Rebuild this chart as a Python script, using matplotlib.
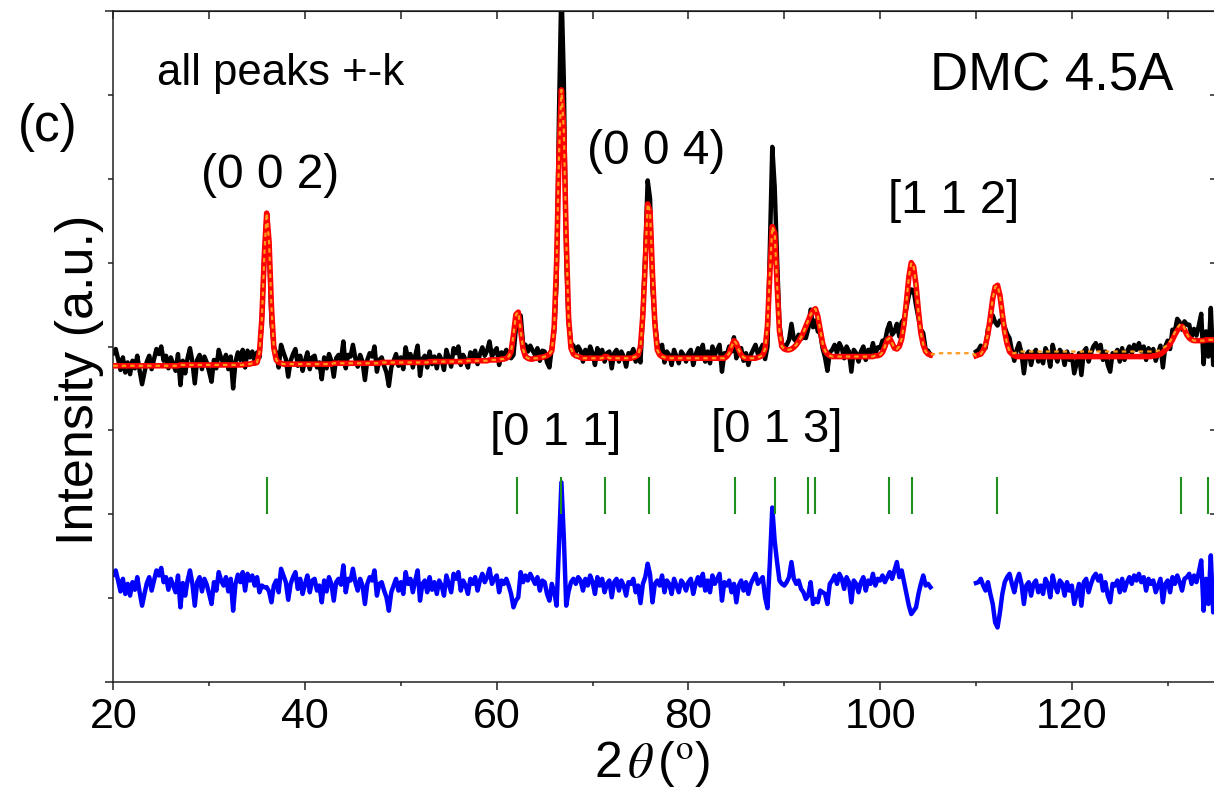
import numpy as np
import matplotlib
matplotlib.use("Agg")
import matplotlib.pyplot as plt
from matplotlib.ticker import FixedLocator, MultipleLocator, NullFormatter

plt.rcParams["font.family"] = ["Liberation Sans", "DejaVu Sans"]
plt.rcParams["mathtext.fontset"] = "stix"

NA = float("nan")

# ---------------------------------------------------------------- data
# 2theta grid of the measurement (degrees)
TT_START = 20.0
TT_STEP = 0.25

# calculated profile (red), 0.01 a.u., one row = one degree (x.00, x.25, x.50, x.75)
fit_rows = [
    [377, 377, 377, 377],  # 20
    [377, 377, 377, 377],  # 21
    [377, 377, 377, 377],  # 22
    [377, 377, 377, 377],  # 23
    [377, 377, 377, 377],  # 24
    [377, 377, 377, 377],  # 25
    [377, 377, 377, 377],  # 26
    [378, 378, 378, 378],  # 27
    [378, 378, 378, 378],  # 28
    [378, 378, 378, 378],  # 29
    [378, 378, 378, 378],  # 30
    [378, 378, 378, 378],  # 31
    [378, 378, 378, 378],  # 32
    [378, 378, 378, 379],  # 33
    [379, 379, 380, 380],  # 34
    [381, 393, 433, 507],  # 35
    [559, 525, 447, 398],  # 36
    [384, 381, 380, 379],  # 37
    [379, 379, 379, 379],  # 38
    [379, 379, 379, 379],  # 39
    [379, 379, 379, 379],  # 40
    [379, 379, 379, 379],  # 41
    [379, 379, 379, 379],  # 42
    [380, 380, 380, 380],  # 43
    [380, 380, 380, 380],  # 44
    [380, 380, 380, 380],  # 45
    [380, 380, 380, 380],  # 46
    [380, 380, 380, 380],  # 47
    [381, 381, 381, 381],  # 48
    [381, 381, 381, 381],  # 49
    [381, 381, 381, 381],  # 50
    [381, 381, 381, 381],  # 51
    [381, 381, 381, 381],  # 52
    [382, 382, 382, 382],  # 53
    [382, 382, 382, 382],  # 54
    [382, 382, 382, 382],  # 55
    [382, 382, 382, 382],  # 56
    [383, 383, 383, 383],  # 57
    [383, 383, 383, 383],  # 58
    [383, 384, 384, 384],  # 59
    [384, 384, 385, 385],  # 60
    [386, 388, 394, 414],  # 61
    [438, 441, 419, 397],  # 62
    [388, 386, 385, 385],  # 63
    [386, 386, 387, 387],  # 64
    [388, 389, 391, 395],  # 65
    [424, 500, 629, 706],  # 66
    [658, 529, 434, 398],  # 67
    [391, 389, 388, 387],  # 68
    [386, 386, 386, 386],  # 69
    [386, 386, 386, 386],  # 70
    [386, 388, 388, 386],  # 71
    [386, 386, 386, 386],  # 72
    [386, 386, 386, 386],  # 73
    [386, 387, 388, 390],  # 74
    [400, 438, 500, 570],  # 75
    [561, 487, 427, 396],  # 76
    [390, 388, 387, 386],  # 77
    [386, 386, 386, 386],  # 78
    [386, 386, 386, 386],  # 79
    [386, 386, 386, 386],  # 80
    [386, 386, 386, 386],  # 81
    [386, 386, 386, 386],  # 82
    [386, 386, 386, 386],  # 83
    [388, 392, 400, 407],  # 84
    [404, 396, 390, 387],  # 85
    [386, 386, 386, 386],  # 86
    [386, 387, 388, 390],  # 87
    [397, 425, 488, 543],  # 88
    [535, 474, 418, 400],  # 89
    [397, 396, 396, 397],  # 90
    [399, 402, 406, 411],  # 91
    [417, 424, 431, 438],  # 92
    [443, 445, 436, 420],  # 93
    [404, 395, 391, 389],  # 94
    [388, 388, 388, 388],  # 95
    [388, 388, 388, 388],  # 96
    [388, 388, 388, 388],  # 97
    [388, 388, 388, 388],  # 98
    [388, 388, 389, 389],  # 99
    [390, 393, 400, 408],  # 100
    [410, 404, 398, 397],  # 101
    [400, 409, 427, 454],  # 102
    [483, 500, 495, 473],  # 103
    [442, 416, 402, 394],  # 104
    [391, 390, NA, NA],    # 105
    [NA, NA, NA, NA],      # 106
    [NA, NA, NA, NA],      # 107
    [NA, NA, NA, NA],      # 108
    [NA, NA, NA, NA],      # 109
    [389, 390, 391, 395],  # 110
    [402, 415, 435, 457],  # 111
    [471, 473, 461, 439],  # 112
    [417, 403, 394, 391],  # 113
    [389, 388, 388, 388],  # 114
    [388, 388, 388, 388],  # 115
    [388, 388, 388, 388],  # 116
    [388, 388, 388, 388],  # 117
    [388, 388, 388, 388],  # 118
    [388, 388, 388, 388],  # 119
    [388, 388, 388, 388],  # 120
    [388, 388, 388, 388],  # 121
    [388, 388, 388, 388],  # 122
    [388, 388, 388, 388],  # 123
    [388, 388, 388, 388],  # 124
    [388, 388, 388, 388],  # 125
    [388, 388, 388, 388],  # 126
    [388, 388, 388, 388],  # 127
    [388, 388, 389, 389],  # 128
    [390, 391, 393, 396],  # 129
    [399, 403, 408, 414],  # 130
    [419, 423, 424, 420],  # 131
    [414, 410, 408, 407],  # 132
    [407, 407, 407, 407],  # 133
    [408, 408, 408, 408],  # 134
    [408],                 # 135
]

# residual obs - calc (blue curve), 0.01 a.u., same grid
diff_rows = [
    [15, 20, 8, -5],      # 20
    [10, -8, 4, -10],     # 21
    [6, -3, 12, -6],      # 22
    [-22, -8, 5, 12],     # 23
    [-4, 8, 20, 14],      # 24
    [23, 6, 12, -3],      # 25
    [10, 2, -6, 14],      # 26
    [-24, 5, -10, 8],     # 27
    [20, 4, -22, 6],      # 28
    [12, -5, 10, 3],      # 29
    [-8, -20, 6, -4],     # 30
    [18, 8, 2, 12],       # 31
    [-5, 10, -28, 4],     # 32
    [15, 6, 18, -4],      # 33
    [16, 8, 14, 2],       # 34
    [12, -6, 2, 0],       # 35
    [0, -5, -18, 2],      # 36
    [8, -6, 22, 14],      # 37
    [6, -15, 4, 12],      # 38
    [18, -2, 10, -8],     # 39
    [4, 14, -6, 8],       # 40
    [10, -4, 2, -18],     # 41
    [8, -5, 12, 4],       # 42
    [-16, 6, 10, 3],      # 43
    [26, -6, 10, 8],      # 44
    [22, 6, -4, 10],      # 45
    [2, -20, 4, 12],      # 46
    [8, 20, -10, 4],      # 47
    [6, -4, -12, -28],    # 48
    [-6, 2, 10, -4],      # 49
    [6, -8, 18, 4],       # 50
    [10, -6, 8, 20],      # 51
    [-16, 4, 8, -6],      # 52
    [12, -3, 6, -8],      # 53
    [8, 2, -10, 14],      # 54
    [4, -6, 16, 10],      # 55
    [18, -4, 8, 2],       # 56
    [-8, 10, 4, 12],      # 57
    [-4, 8, 16, 6],       # 58
    [12, 22, 4, 10],      # 59
    [14, -6, 8, 4],       # 60
    [10, 2, -8, -24],     # 61
    [-16, -12, 18, 6],    # 62
    [14, 8, 16, 10],      # 63
    [4, 12, -4, 8],       # 64
    [6, -8, -16, 4],      # 65
    [-6, -22, 50, 125],   # 66
    [60, -22, -5, 6],     # 67
    [10, 4, 12, 8],       # 68
    [-4, 10, 2, 14],      # 69
    [6, -8, 12, 2],       # 70
    [10, -6, 4, 8],       # 71
    [-12, 6, 10, -4],     # 72
    [8, 2, -10, 6],       # 73
    [4, 10, -6, 2],       # 74
    [-19, 4, 12, 28],     # 75
    [15, -18, 4, 8],      # 76
    [2, 14, -6, 8],       # 77
    [4, -8, 10, 2],       # 78
    [-6, 8, 4, -4],       # 79
    [6, 10, -8, 4],       # 80
    [12, 2, 16, -4],      # 81
    [8, -6, 14, 4],       # 82
    [10, 16, -16, 6],     # 83
    [2, 8, -6, 4],        # 84
    [-18, 2, 8, -4],      # 85
    [6, -8, 4, 10],       # 86
    [16, 4, 8, 12],       # 87
    [-12, -25, 30, 95],   # 88
    [55, 30, 8, 4],       # 89
    [2, 6, 12, 30],       # 90
    [10, 4, 8, -2],       # 91
    [-6, -14, -10, 6],    # 92
    [-20, -14, -18, -4],  # 93
    [-6, -8, -20, 4],     # 94
    [8, 14, 4, 16],       # 95
    [10, -2, 12, 6],      # 96
    [-18, 8, 4, -6],      # 97
    [6, 12, -4, 8],       # 98
    [4, 16, 2, 10],       # 99
    [8, 14, 6, 12],       # 100
    [18, 10, 20, 30],     # 101
    [12, 20, 6, -8],      # 102
    [-22, -32, -28, -24], # 103
    [-8, 4, 14, 2],       # 104
    [4, 0, NA, NA],       # 105
    [NA, NA, NA, NA],     # 106
    [NA, NA, NA, NA],     # 107
    [NA, NA, NA, NA],     # 108
    [NA, NA, NA, NA],     # 109
    [5, 6, 10, 2],        # 110
    [-4, 6, -8, -20],     # 111
    [-42, -48, -30, -8],  # 112
    [6, 12, 16, 4],       # 113
    [-6, 8, 16, 4],       # 114
    [-20, 2, 6, -10],     # 115
    [4, 8, -6, 2],        # 116
    [-8, 10, 4, -12],     # 117
    [14, 2, -6, 8],       # 118
    [4, -10, 6, -4],      # 119
    [2, -20, -8, 4],      # 120
    [-22, 6, 10, -6],     # 121
    [4, 12, 16, 8],       # 122
    [14, -4, 6, -10],     # 123
    [-18, 4, 2, 8],       # 124
    [-6, 10, -4, 6],      # 125
    [12, 4, 14, 8],       # 126
    [16, 6, 12, -4],      # 127
    [10, 4, 8, -6],       # 128
    [2, 10, -18, 4],      # 129
    [8, -6, 12, 4],       # 130
    [14, 6, -4, 10],      # 131
    [12, 16, 4, 14],      # 132
    [6, 18, 32, -28],     # 133
    [10, -20, 38, -30],   # 134
    [12],                 # 135
]

# alternative fit (orange dashed): differs from the red one in two stretches
alt_gap_start = 105.5
alt_gap = [391, 391, 391, 392, 392, 392, 392, 392, 392,
           392, 392, 392, 392, 392, 392, 392, 391, 391]
alt_hi_start = 113.5
alt_hi = ([394, 392, 392, 393] + [394] * 58 +
          [395, 396, 398, 400, 402, 406, 411, 417, 422, 426, 427, 422, 415])

# Bragg reflection positions (green ticks)
bragg_pos = [36.0, 62.16, 66.75, 71.31, 75.89, 84.83, 89.03, 92.43, 93.24,
             100.93, 103.33, 112.15, 131.43, 134.21]

DIFF_OFFSET = 1.13
BRAGG_Y = (2.0, 2.45)

# ---------------------------------------------------------------- build
fit = np.array([v for r in fit_rows for v in r], dtype=float) / 100.0
diff = np.array([v for r in diff_rows for v in r], dtype=float) / 100.0
assert fit.size == diff.size == 461
tt = TT_START + TT_STEP * np.arange(fit.size)
obs = fit + diff

alt = fit.copy()
i0 = int(round((alt_gap_start - TT_START) / TT_STEP))
alt[i0:i0 + len(alt_gap)] = np.array(alt_gap) / 100.0
i1 = int(round((alt_hi_start - TT_START) / TT_STEP))
alt[i1:i1 + len(alt_hi)] = np.array(alt_hi) / 100.0

# ---------------------------------------------------------------- plot
W, H = 1214, 794
fig = plt.figure(figsize=(W / 100, H / 100), dpi=100)
ax = fig.add_axes([113.3 / W, (H - 682) / H, (1215.6 - 113.3) / W, (682 - 11) / H])

ax.plot(tt, obs, color="black", lw=3.2, zorder=2)
ax.plot(tt, fit, color="red", lw=4.0, zorder=3)
ax.plot(tt, alt, color="#ff9a1a", lw=1.6, ls=(0, (2.0, 1.8)), zorder=4)
ax.plot(tt, diff + DIFF_OFFSET, color="blue", lw=3.2, zorder=2)
ax.vlines(bragg_pos, BRAGG_Y[0], BRAGG_Y[1], color="#1f8f1f", lw=1.5, zorder=2)

ax.set_xlim(20, 135)
ax.set_ylim(0, 8)

for s in ax.spines.values():
    s.set_linewidth(1.1)
    s.set_color("#222222")

ax.xaxis.set_major_locator(MultipleLocator(20))
ax.xaxis.set_minor_locator(MultipleLocator(10))
ax.yaxis.set_major_locator(FixedLocator([0, 8]))
ax.yaxis.set_minor_locator(FixedLocator([1, 2, 3, 4, 5, 6, 7]))
ax.yaxis.set_major_formatter(NullFormatter())
ax.tick_params(axis="x", which="major", direction="out", length=6, width=1.1,
               labelsize=31, pad=5, colors="#222222", labelcolor="black")
ax.tick_params(axis="x", which="minor", direction="out", length=3, width=1.1,
               colors="#222222")
ax.tick_params(axis="y", which="major", direction="out", length=6, width=1.1,
               colors="#222222")
ax.tick_params(axis="y", which="minor", direction="out", length=3.6, width=1.1,
               colors="#222222")

top = ax.secondary_xaxis("top")
top.xaxis.set_major_locator(MultipleLocator(10))
top.tick_params(direction="in", length=5.5, width=1.1, labeltop=False,
                colors="#222222")
right = ax.secondary_yaxis("right")
right.yaxis.set_major_locator(FixedLocator([1, 2, 3, 4, 5, 6, 7]))
right.tick_params(direction="in", length=4.5, width=1.1, labelright=False,
                  colors="#222222")

# annotations
ax.text(24.56, 7.26, "all peaks +-k", fontsize=31.5, ha="left", va="center")
ax.text(105.2, 7.22, "DMC 4.5A", fontsize=38, ha="left", va="center")
ax.text(36.35, 6.04, "(0 0 2)", fontsize=34.5, ha="center", va="center")
ax.text(76.6, 6.32, "(0 0 4)", fontsize=34.5, ha="center", va="center")
ax.text(107.7, 5.74, "[1 1 2]", fontsize=34, ha="center", va="center")
ax.text(66.2, 2.97, "[0 1 1]", fontsize=34, ha="center", va="center")
ax.text(89.25, 3.00, "[0 1 3]", fontsize=34, ha="center", va="center")

fig.text(48 / W, 1 - 128 / H, "(c)", fontsize=37, ha="center", va="center")
fig.text(80 / W, 1 - 380 / H, "Intensity (a.u.)", fontsize=37.5, rotation=90,
         ha="center", va="center")
fig.text(652 / W, 1 - 764 / H, r"2$\,\theta\,$($^{\mathrm{o}}$)", fontsize=36,
         ha="center", va="center")

fig.savefig("out.png", dpi=100)
